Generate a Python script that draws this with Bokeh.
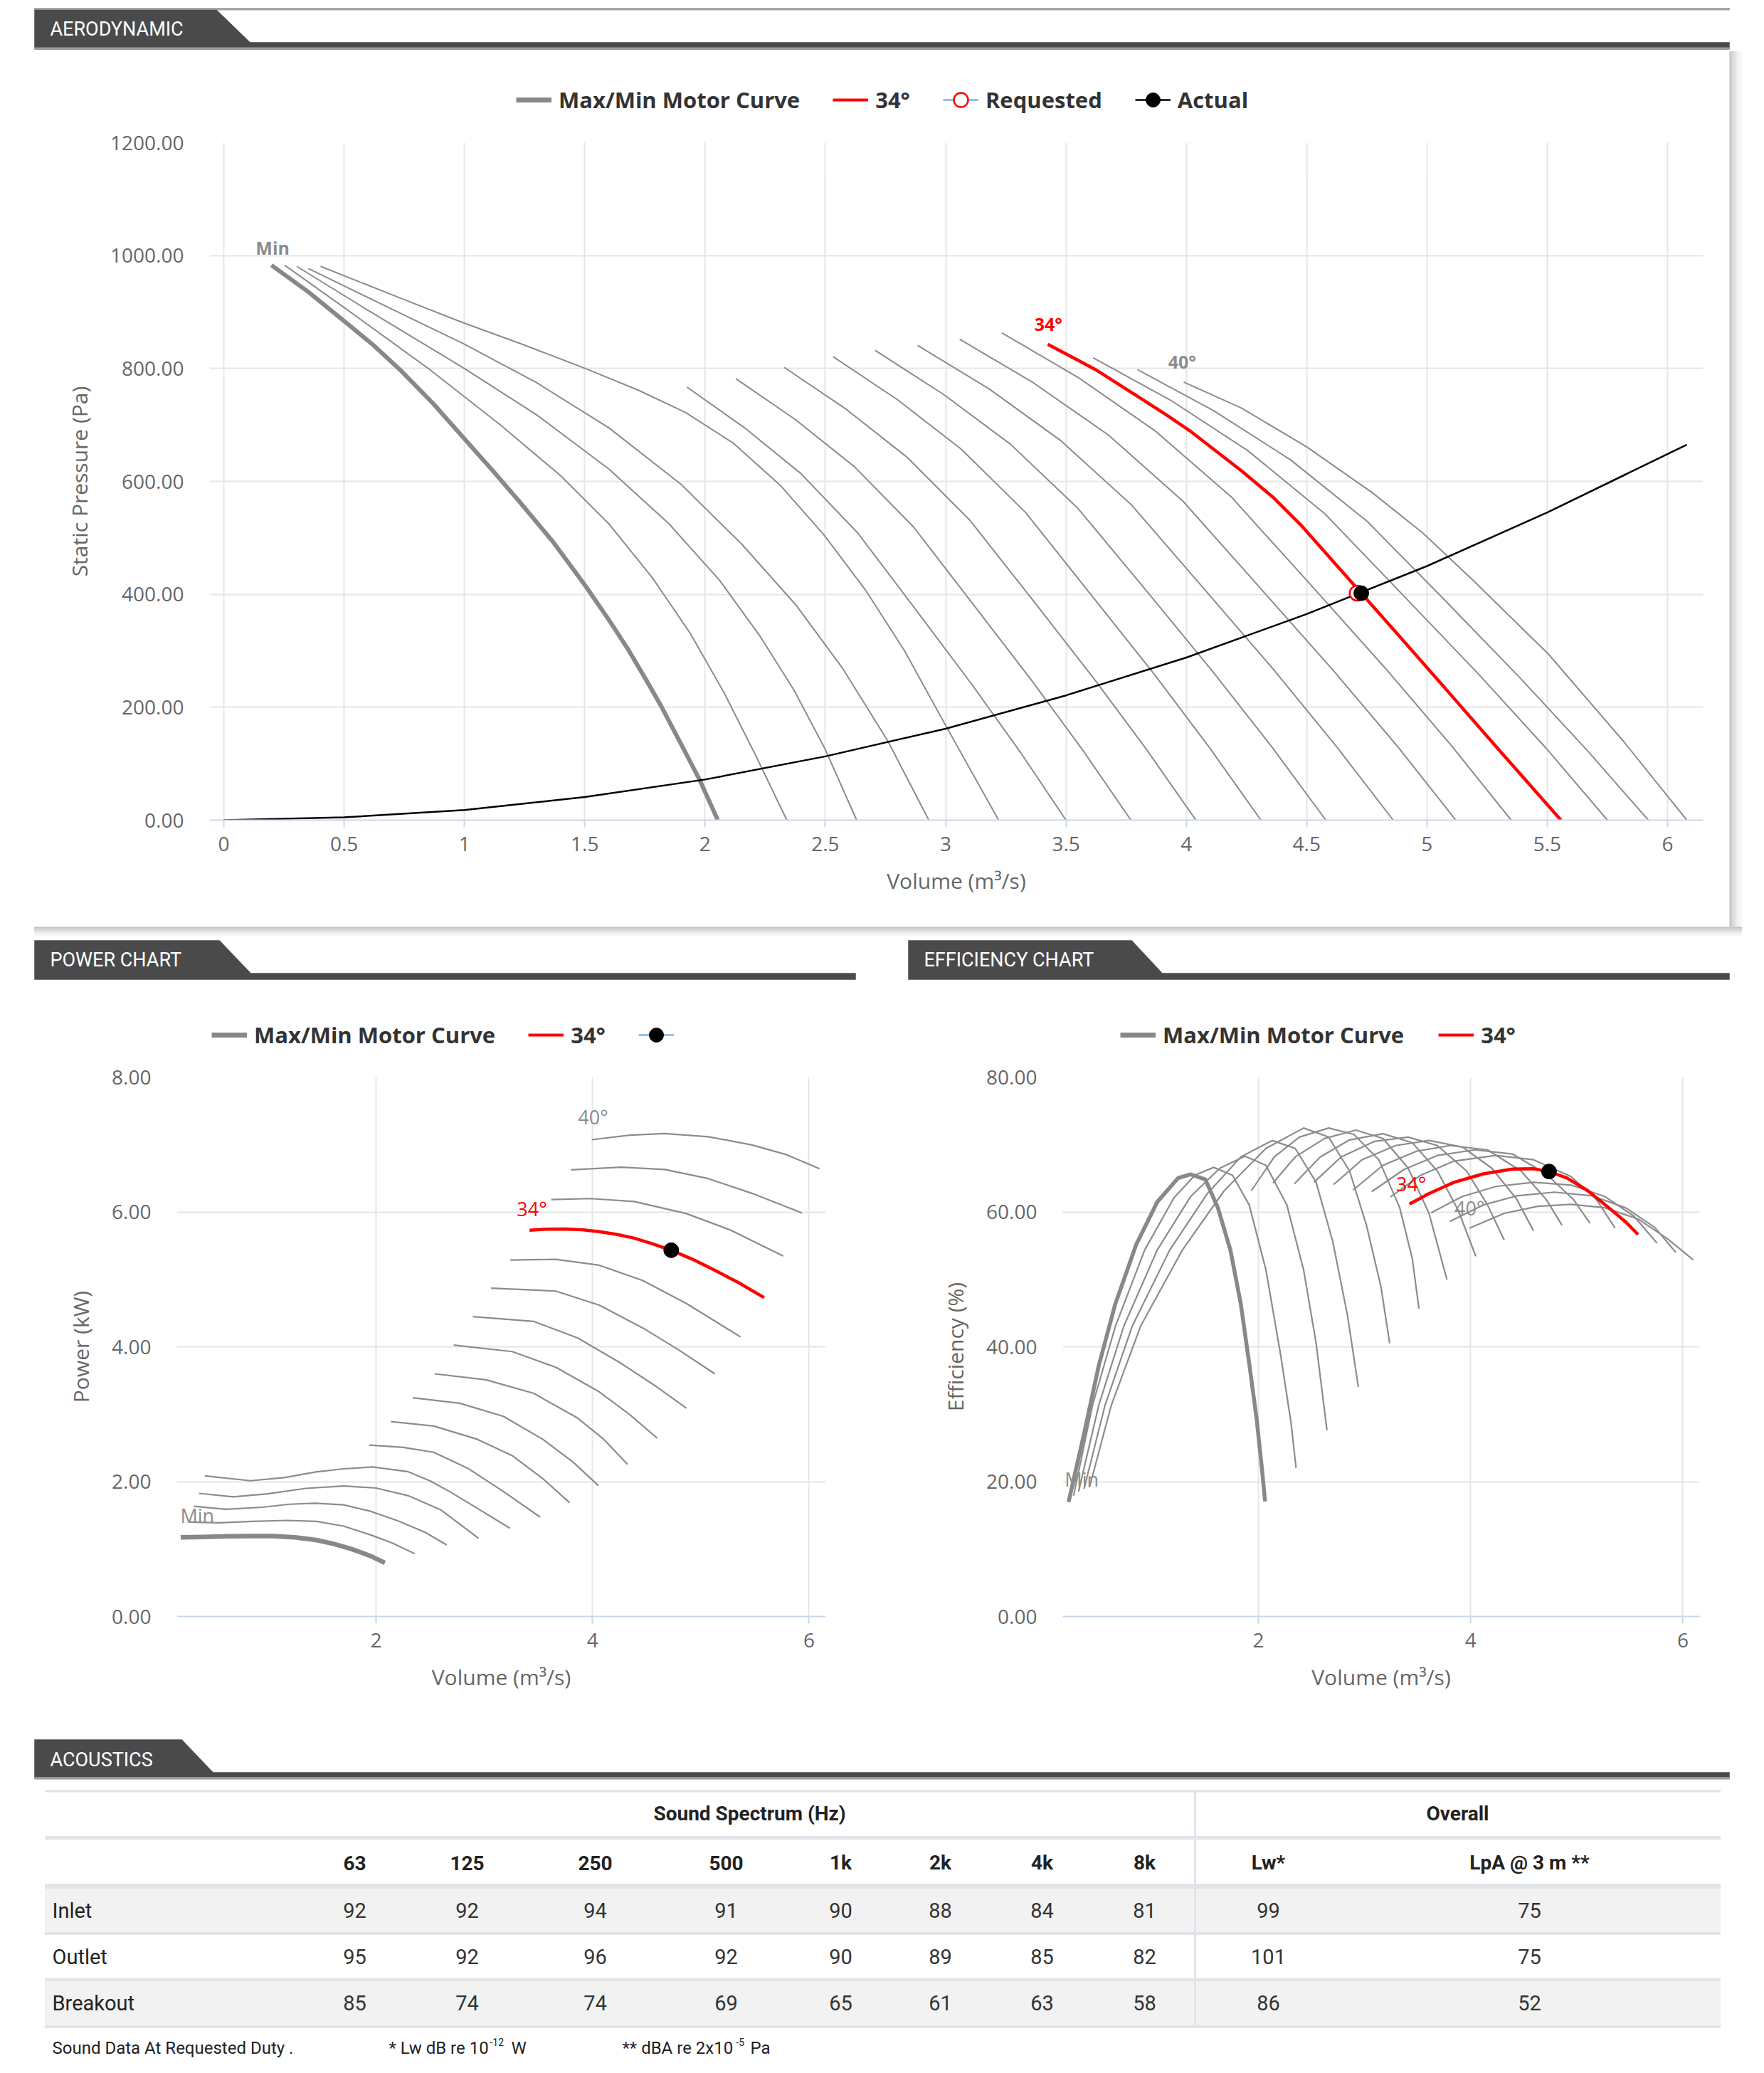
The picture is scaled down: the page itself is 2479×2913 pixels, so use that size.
from bokeh.plotting import figure
from bokeh.models import Range1d, FixedTicker, CustomJSTickFormatter, Legend, LegendItem
from bokeh.layouts import column, row
from bokeh.embed import file_html
from bokeh.resources import INLINE
from bokeh.core.properties import value

# ======================= DATA =======================
ANGLES = [10, 12, 14, 16, 18, 20, 22, 24, 26, 28, 30, 32, 34, 36, 38, 40]
SELECTED_ANGLE = 34

# ---- Aerodynamic: volume (m3/s) vs static pressure (Pa)
AERO_MIN_Q = [0.198, 0.35, 0.5, 0.62, 0.732, 0.87, 0.999, 1.12, 1.227, 1.37, 1.503, 1.60, 1.681, 1.76, 1.82, 1.90, 1.978, 2.053]
AERO_MIN_P = [983, 936, 884, 842, 798, 738, 676, 618, 565, 492, 415, 355, 302, 245, 200, 135, 71, 0]
AERO_10_Q = [0.253, 0.5, 0.85, 1.15, 1.4, 1.6, 1.78, 1.94, 2.08, 2.21, 2.34]
AERO_10_P = [983, 908, 800, 700, 610, 525, 430, 330, 225, 115, 0]
AERO_12_Q = [0.303, 0.6, 1.0, 1.3, 1.6, 1.85, 2.06, 2.23, 2.37, 2.5, 2.63]
AERO_12_P = [981, 903, 800, 718, 622, 525, 425, 325, 230, 125, 0]
AERO_14_Q = [0.352, 0.7, 1.0, 1.3, 1.6, 1.9, 2.15, 2.38, 2.57, 2.76, 2.93]
AERO_14_P = [977, 905, 843, 775, 695, 595, 490, 380, 270, 140, 0]
AERO_16_Q = [0.402, 0.732, 0.989, 1.246, 1.503, 1.721, 1.919, 2.117, 2.315, 2.493, 2.671, 2.829, 2.997, 3.22]
AERO_16_P = [981, 925, 882, 842, 800, 762, 722, 668, 592, 506, 405, 300, 170, 0]
AERO_18_Q = [1.925, 2.161, 2.398, 2.634, 2.870, 3.106, 3.311, 3.50]
AERO_18_P = [767, 696, 614, 509, 376, 242, 120, 0]
AERO_20_Q = [2.128, 2.374, 2.621, 2.867, 3.113, 3.360, 3.573, 3.77]
AERO_20_P = [782, 710, 626, 519, 383, 246, 122, 0]
AERO_22_Q = [2.329, 2.586, 2.842, 3.099, 3.356, 3.612, 3.835, 4.04]
AERO_22_P = [802, 728, 642, 532, 393, 253, 125, 0]
AERO_24_Q = [2.532, 2.799, 3.065, 3.332, 3.599, 3.866, 4.097, 4.31]
AERO_24_P = [821, 745, 657, 545, 402, 259, 128, 0]
AERO_26_Q = [2.707, 2.988, 3.269, 3.550, 3.831, 4.112, 4.355, 4.58]
AERO_26_P = [832, 755, 666, 552, 408, 262, 130, 0]
AERO_28_Q = [2.883, 3.180, 3.476, 3.773, 4.069, 4.366, 4.623, 4.86]
AERO_28_P = [841, 764, 673, 558, 412, 265, 131, 0]
AERO_30_Q = [3.058, 3.367, 3.677, 3.986, 4.295, 4.605, 4.873, 5.12]
AERO_30_P = [852, 774, 682, 565, 417, 268, 133, 0]
AERO_32_Q = [3.234, 3.551, 3.869, 4.186, 4.504, 4.821, 5.096, 5.35]
AERO_32_P = [863, 784, 690, 573, 423, 272, 135, 0]
AERO_34_Q = [3.424, 3.623, 3.811, 3.92, 4.020, 4.229, 4.36, 4.480, 4.727, 4.877, 5.087, 5.296, 5.557]
AERO_34_P = [843, 798, 747, 717, 688, 619, 572, 521, 402, 330, 228, 126, 0]
AERO_36_Q = [3.613, 3.934, 4.254, 4.575, 4.895, 5.216, 5.494, 5.75]
AERO_36_P = [819, 744, 655, 543, 401, 258, 128, 0]
AERO_38_Q = [3.797, 4.115, 4.434, 4.752, 5.071, 5.389, 5.665, 5.92]
AERO_38_P = [798, 725, 638, 529, 391, 251, 124, 0]
AERO_40_Q = [3.989, 4.229, 4.501, 4.773, 4.982, 5.191, 5.505, 5.818, 6.080]
AERO_40_P = [776, 730, 661, 580, 509, 425, 294, 139, 0]
SYSTEM_Q = [0, 0.5, 1.0, 1.5, 2.0, 2.5, 3.0, 3.5, 4.0, 4.5, 5.0, 5.5, 6.08]
SYSTEM_P = [0, 5, 18, 41, 72, 113, 162, 221, 288, 365, 450, 545, 665]
REQUESTED_Q = [4.71]
REQUESTED_P = [402]
ACTUAL_Q = [4.727]
ACTUAL_P = [402]
CURVE_LABELS = ["Min", "34°", "40°"]
AERO_LABEL_Q = [0.203, 3.427, 3.983]
AERO_LABEL_P = [1014, 879, 813]

# ---- Power: volume (m3/s) vs power (kW)
POW_MIN_Q = [0.195, 0.4, 0.639, 0.85, 1.041, 1.25, 1.444, 1.6, 1.766, 1.87, 1.968, 2.081]
POW_MIN_KW = [1.174, 1.18, 1.19, 1.192, 1.193, 1.175, 1.135, 1.08, 1.004, 0.945, 0.883, 0.796]
POW_10_Q = [0.276, 0.55, 0.85, 1.18, 1.45, 1.70, 1.95, 2.15, 2.358]
POW_10_KW = [1.40, 1.39, 1.41, 1.425, 1.41, 1.34, 1.21, 1.09, 0.93]
POW_12_Q = [0.316, 0.61, 0.95, 1.2, 1.44, 1.7, 1.95, 2.2, 2.45, 2.653]
POW_12_KW = [1.635, 1.59, 1.62, 1.665, 1.68, 1.655, 1.56, 1.42, 1.25, 1.06]
POW_14_Q = [0.365, 0.68, 1.0, 1.35, 1.7, 2.0, 2.3, 2.6, 2.947]
POW_14_KW = [1.826, 1.775, 1.82, 1.90, 1.935, 1.905, 1.79, 1.58, 1.16]
POW_16_Q = [0.417, 0.84, 1.15, 1.444, 1.7, 1.968, 2.29, 2.5, 2.693, 2.95, 3.237]
POW_16_KW = [2.086, 2.013, 2.06, 2.144, 2.19, 2.217, 2.15, 2.01, 1.84, 1.59, 1.309]
POW_18_Q = [1.936, 2.25, 2.532, 2.854, 3.176, 3.515]
POW_18_KW = [2.542, 2.508, 2.435, 2.192, 1.853, 1.475]
POW_20_Q = [2.137, 2.532, 2.934, 3.257, 3.539, 3.788]
POW_20_KW = [2.891, 2.824, 2.629, 2.386, 2.047, 1.688]
POW_22_Q = [2.338, 2.773, 3.176, 3.539, 3.821, 4.054]
POW_22_KW = [3.245, 3.162, 2.968, 2.629, 2.289, 1.941]
POW_24_Q = [2.540, 3.015, 3.458, 3.861, 4.103, 4.324]
POW_24_KW = [3.599, 3.511, 3.308, 2.944, 2.629, 2.256]
POW_26_Q = [2.717, 3.257, 3.660, 4.062, 4.344, 4.598]
POW_26_KW = [4.026, 3.929, 3.696, 3.332, 2.993, 2.644]
POW_28_Q = [2.894, 3.458, 3.861, 4.264, 4.586, 4.868]
POW_28_KW = [4.447, 4.375, 4.132, 3.754, 3.414, 3.089]
POW_30_Q = [3.063, 3.660, 4.062, 4.465, 4.788, 5.130]
POW_30_KW = [4.870, 4.826, 4.617, 4.278, 3.962, 3.599]
POW_32_Q = [3.241, 3.660, 4.062, 4.465, 4.868, 5.367]
POW_32_KW = [5.286, 5.296, 5.209, 4.981, 4.641, 4.147]
POW_34_Q = [3.418, 3.58, 3.740, 3.9, 4.062, 4.22, 4.385, 4.55, 4.727, 4.92, 5.110, 5.35, 5.585]
POW_34_KW = [5.728, 5.745, 5.747, 5.735, 5.708, 5.668, 5.611, 5.53, 5.432, 5.30, 5.151, 4.95, 4.729]
POW_36_Q = [3.619, 3.982, 4.385, 4.868, 5.271, 5.762]
POW_36_KW = [6.183, 6.198, 6.154, 5.975, 5.733, 5.345]
POW_38_Q = [3.801, 4.264, 4.667, 5.070, 5.472, 5.936]
POW_38_KW = [6.625, 6.664, 6.630, 6.494, 6.276, 5.985]
POW_40_Q = [3.994, 4.344, 4.667, 5.070, 5.472, 5.794, 6.097]
POW_40_KW = [7.071, 7.139, 7.163, 7.115, 6.994, 6.848, 6.640]
POW_ACTUAL_Q = [4.727]
POW_ACTUAL_KW = [5.432]
POW_LABEL_Q = [0.348, 3.44, 4.005]
POW_LABEL_KW = [1.50, 6.05, 7.41]

# ---- Efficiency: volume (m3/s) vs efficiency (%)
EFF_MIN_Q = [0.211, 0.357, 0.495, 0.652, 0.849, 1.046, 1.243, 1.362, 1.500, 1.618, 1.736, 1.834, 1.913, 1.984, 2.032, 2.063]
EFF_MIN_E = [16.98, 27.12, 37.17, 46.38, 55.18, 61.46, 65.02, 65.57, 64.81, 60.63, 54.34, 46.38, 37.59, 29.21, 22.09, 17.06]
EFF_10_Q = [0.258, 0.436, 0.652, 0.928, 1.204, 1.401, 1.578, 1.756, 1.913, 2.071, 2.209, 2.307, 2.355]
EFF_10_E = [17.90, 31.30, 43.03, 54.34, 62.09, 65.44, 66.61, 65.44, 61.04, 51.41, 38.84, 28.79, 22.01]
EFF_12_Q = [0.305, 0.495, 0.731, 1.046, 1.362, 1.637, 1.874, 2.071, 2.268, 2.426, 2.544, 2.646]
EFF_12_E = [18.53, 31.30, 43.03, 54.34, 62.30, 66.49, 68.25, 66.91, 61.04, 51.41, 40.52, 27.62]
EFF_14_Q = [0.357, 0.554, 0.810, 1.164, 1.519, 1.834, 2.130, 2.347, 2.544, 2.701, 2.839, 2.942]
EFF_14_E = [18.95, 31.30, 43.03, 54.34, 62.72, 68.16, 70.59, 69.42, 64.39, 55.60, 44.71, 34.03]
EFF_16_Q = [0.408, 0.613, 0.889, 1.283, 1.677, 2.071, 2.426, 2.662, 2.859, 3.017, 3.155, 3.237]
EFF_16_E = [19.16, 31.30, 43.03, 54.34, 63.14, 69.42, 72.44, 71.10, 66.07, 58.11, 48.90, 40.52]
EFF_18_Q = [1.933, 2.150, 2.386, 2.662, 2.899, 3.135, 3.332, 3.450, 3.513]
EFF_18_E = [63.14, 68.16, 71.10, 72.44, 71.51, 67.74, 60.62, 53.09, 45.67]
EFF_20_Q = [2.138, 2.347, 2.623, 2.918, 3.174, 3.411, 3.608, 3.777]
EFF_20_E = [64.31, 68.16, 70.89, 72.14, 70.89, 66.49, 59.79, 49.94]
EFF_22_Q = [2.339, 2.583, 2.859, 3.174, 3.450, 3.687, 3.884, 4.049]
EFF_22_E = [64.18, 68.16, 70.68, 71.60, 70.26, 66.07, 60.21, 53.42]
EFF_24_Q = [2.524, 2.780, 3.096, 3.411, 3.687, 3.962, 4.159, 4.317]
EFF_24_E = [64.39, 68.16, 70.47, 71.10, 69.84, 66.07, 61.04, 55.81]
EFF_26_Q = [2.709, 2.977, 3.293, 3.608, 3.923, 4.199, 4.435, 4.593]
EFF_26_E = [64.06, 67.74, 69.84, 70.59, 69.63, 66.49, 61.88, 57.19]
EFF_28_Q = [2.891, 3.174, 3.490, 3.805, 4.159, 4.475, 4.711, 4.861]
EFF_28_E = [63.22, 66.91, 69.00, 69.84, 69.21, 66.07, 61.88, 58.03]
EFF_30_Q = [3.068, 3.371, 3.687, 4.041, 4.396, 4.711, 4.967, 5.125]
EFF_30_E = [63.01, 66.28, 68.37, 69.21, 68.58, 65.65, 61.88, 58.32]
EFF_32_Q = [3.245, 3.529, 3.844, 4.238, 4.593, 4.948, 5.184, 5.361]
EFF_32_E = [62.22, 65.44, 67.54, 68.37, 67.74, 65.23, 61.88, 57.61]
EFF_34_Q = [3.423, 3.608, 3.844, 4.120, 4.396, 4.593, 4.739, 4.908, 5.105, 5.302, 5.460, 5.578]
EFF_34_E = [61.17, 62.72, 64.39, 65.65, 66.36, 66.40, 65.99, 65.02, 63.14, 60.62, 58.53, 56.65]
EFF_36_Q = [3.628, 3.923, 4.238, 4.593, 4.948, 5.263, 5.539, 5.756]
EFF_36_E = [59.87, 62.30, 63.77, 64.39, 63.98, 62.30, 59.37, 55.39]
EFF_38_Q = [3.805, 4.120, 4.435, 4.790, 5.145, 5.460, 5.736, 5.933]
EFF_38_E = [58.61, 61.04, 62.38, 62.93, 62.38, 60.62, 57.69, 54.01]
EFF_40_Q = [3.990, 4.317, 4.633, 4.948, 5.263, 5.578, 5.854, 6.098]
EFF_40_E = [57.61, 59.79, 60.83, 61.13, 60.62, 58.95, 56.02, 52.88]
EFF_ACTUAL_Q = [4.739]
EFF_ACTUAL_E = [65.99]
EFF_LABEL_Q = [0.335, 3.44, 3.99]
EFF_LABEL_E = [20.4, 64.2, 60.6]

# ---- Axis ticks / labels
AERO_X_TICKS = [0, 0.5, 1, 1.5, 2, 2.5, 3, 3.5, 4, 4.5, 5, 5.5, 6]
AERO_X_LABELS = ["0", "0.5", "1", "1.5", "2", "2.5", "3", "3.5", "4", "4.5", "5", "5.5", "6"]
AERO_Y_TICKS = [0, 200, 400, 600, 800, 1000, 1200]
AERO_Y_LABELS = ["0.00", "200.00", "400.00", "600.00", "800.00", "1000.00", "1200.00"]
POW_X_TICKS = [2, 4, 6]
POW_X_LABELS = ["2", "4", "6"]
POW_Y_TICKS = [0, 2, 4, 6, 8]
POW_Y_LABELS = ["0.00", "2.00", "4.00", "6.00", "8.00"]
EFF_Y_TICKS = [0, 20, 40, 60, 80]
EFF_Y_LABELS = ["0.00", "20.00", "40.00", "60.00", "80.00"]

# ---- Acoustics table
FREQ_BANDS = ["63", "125", "250", "500", "1k", "2k", "4k", "8k"]
OVERALL_COLS = ["Lw*", "LpA @ 3 m **"]
ROW_NAMES = ["Inlet", "Outlet", "Breakout"]
INLET_DB = [92, 92, 94, 91, 90, 88, 84, 81]
OUTLET_DB = [95, 92, 96, 92, 90, 89, 85, 82]
BREAKOUT_DB = [85, 74, 74, 69, 65, 61, 63, 58]
INLET_OVERALL = [99, 75]
OUTLET_OVERALL = [101, 75]
BREAKOUT_OVERALL = [86, 52]

# ======================= STYLE =======================
GRAY = "#8c8c8c"
THICK = "#888888"
RED = "#ff0000"
TXT = "#666666"
DARK = "#4a4a4a"
FONT = "Open Sans"
TFONT = "Roboto"
BLUE = "#7cb5ec"


def fmt(tv, tl):
    return CustomJSTickFormatter(args=dict(tv=list(tv), tl=list(tl)),
                                 code="const i = tv.indexOf(tick); return i >= 0 ? tl[i] : '';")


def chart(w, h, xr, yr, bl, br, bt, bb, xt, xl, yt, yl, xtitle, ytitle):
    p = figure(width=w, height=h, x_range=Range1d(*xr), y_range=Range1d(*yr),
               output_backend="svg", toolbar_location=None,
               min_border_left=bl, min_border_right=br, min_border_top=bt, min_border_bottom=bb)
    p.outline_line_color = None
    p.xaxis.ticker = FixedTicker(ticks=list(xt))
    p.yaxis.ticker = FixedTicker(ticks=list(yt))
    p.xaxis.formatter = fmt(xt, xl)
    p.yaxis.formatter = fmt(yt, yl)
    p.xaxis.axis_label = xtitle
    p.yaxis.axis_label = ytitle
    p.axis.major_label_text_font = FONT
    p.axis.major_label_text_font_size = "28px"
    p.axis.major_label_text_color = TXT
    p.axis.axis_label_text_font = FONT
    p.axis.axis_label_text_font_size = "30px"
    p.axis.axis_label_text_font_style = "normal"
    p.axis.axis_label_text_color = TXT
    p.axis.minor_tick_line_color = None
    p.xaxis.axis_line_color = "#ccd6eb"
    p.xaxis.axis_line_width = 2
    p.xaxis.major_tick_line_color = "#ccd6eb"
    p.xaxis.major_tick_line_width = 2
    p.xaxis.major_tick_out = 10
    p.xaxis.major_tick_in = 0
    p.xaxis.major_label_standoff = 13
    p.xaxis.axis_label_standoff = 18
    p.yaxis.axis_line_color = None
    p.yaxis.major_tick_line_color = None
    p.yaxis.major_tick_out = 0
    p.yaxis.major_tick_in = 0
    p.yaxis.major_label_standoff = 36
    p.yaxis.axis_label_standoff = 20
    p.grid.grid_line_color = "#e6e6e6"
    p.grid.grid_line_width = 2
    return p


def canvas(w, h, x0, y0):
    p = figure(width=w, height=h, x_range=Range1d(x0, x0 + w), y_range=Range1d(y0 + h, y0),
               output_backend="svg", toolbar_location=None, min_border=0,
               x_axis_type=None, y_axis_type=None)
    p.outline_line_color = None
    return p


def legend_fig(w, h, spec, loc, spacing):
    # legend-only figure; its sample renderers sit outside the visible range
    p = figure(width=w, height=h, x_range=Range1d(0, 1), y_range=Range1d(0, 1),
               output_backend="svg", toolbar_location=None, min_border=0,
               x_axis_type=None, y_axis_type=None)
    p.outline_line_color = None
    items = []
    for label, parts in spec:
        rends = []
        for kind, kw in parts:
            if kind == "line":
                rends.append(p.line([5, 6], [5, 6], **kw))
            else:
                rends.append(p.scatter([5], [5], marker="circle", **kw))
        items.append(LegendItem(label=label, renderers=rends))
    lg = Legend(items=items, location=loc, orientation="horizontal",
                label_text_font=FONT, label_text_font_size="31px", label_text_font_style="bold",
                label_text_color="#333333", glyph_width=50, glyph_height=56,
                label_standoff=10, spacing=spacing, padding=0, margin=0,
                border_line_alpha=0, background_fill_alpha=0)
    p.add_layout(lg)
    return p


def tab(p, x0, x1, x2, x3, ytop, ybar, ybot, label, ty):
    p.patch([x0, x1, x2, x3, x3, x0], [ytop, ytop, ybar, ybar, ybot, ybot],
            fill_color=DARK, line_color=DARK, line_width=0.5)
    p.text(x=[x0 + 22], y=[ty], text=[label], text_font=value(TFONT), text_font_size="27px",
           text_color="#ffffff", text_baseline="middle", text_align="left")


MINLEG = ("line", dict(line_color=THICK, line_width=7))
REDLEG = ("line", dict(line_color=RED, line_width=4))

# ======================= AERO HEADER =======================
f1 = canvas(2479, 70, 0, 0)
f1.quad(left=[48], right=[2430], top=[11], bottom=[13.5], color="#a6a6a6")
tab(f1, 48, 304, 351, 2430, 13.5, 59, 66.5, "AERODYNAMIC", 40.5)
f1.quad(left=[48], right=[2430], top=[66.5], bottom=[69], color="#9a9a9a")

# ======================= AERO CHART =======================
# (the legend figure's frame gets aligned with the chart frame below, which starts at x=294)
leg_a = legend_fig(2430, 110, [
    ("Max/Min Motor Curve", [MINLEG]),
    ("34°", [REDLEG]),
    ("Requested", [("line", dict(line_color=BLUE, line_width=2.5)),
                   ("scatter", dict(size=20, fill_color="#ffffff", line_color=RED, line_width=2.5))]),
    ("Actual", [("line", dict(line_color="#000000", line_width=2.5)),
                ("scatter", dict(size=20, fill_color="#000000", line_color="#000000"))]),
], (431, 12), 46)

pa = chart(2430, 1122, (-0.0591, 6.1478), (0, 1200), 294, 37, 20, 150,
           AERO_X_TICKS, AERO_X_LABELS, AERO_Y_TICKS, AERO_Y_LABELS,
           "Volume (m³/s)", "Static Pressure (Pa)")
aero_thin = [(AERO_10_Q, AERO_10_P), (AERO_12_Q, AERO_12_P), (AERO_14_Q, AERO_14_P),
             (AERO_16_Q, AERO_16_P), (AERO_18_Q, AERO_18_P), (AERO_20_Q, AERO_20_P),
             (AERO_22_Q, AERO_22_P), (AERO_24_Q, AERO_24_P), (AERO_26_Q, AERO_26_P),
             (AERO_28_Q, AERO_28_P), (AERO_30_Q, AERO_30_P), (AERO_32_Q, AERO_32_P),
             (AERO_36_Q, AERO_36_P), (AERO_38_Q, AERO_38_P), (AERO_40_Q, AERO_40_P)]
for xs, ys in aero_thin:
    pa.line(xs, ys, line_color=GRAY, line_width=2, line_join="round")
pa.line(AERO_MIN_Q, AERO_MIN_P, line_color=THICK, line_width=6, line_join="round")
pa.line(AERO_34_Q, AERO_34_P, line_color=RED, line_width=4.5, line_join="round")
pa.line(SYSTEM_Q, SYSTEM_P, line_color="#000000", line_width=2.5)
pa.scatter(REQUESTED_Q, REQUESTED_P, size=21, marker="circle", fill_color="#ffffff",
           line_color=RED, line_width=2.5)
pa.scatter(ACTUAL_Q, ACTUAL_P, size=21, marker="circle", fill_color="#000000",
           line_color="#000000")
pa.text(x=AERO_LABEL_Q, y=AERO_LABEL_P, text=CURVE_LABELS,
        text_color=[GRAY, RED, GRAY], text_font=value(FONT), text_font_size="25px",
        text_font_style="bold", text_align="center", text_baseline="middle")

shadow = canvas(49, 1232, 2430, 70)
shade_cols = ["#c4c4c4", "#cfcfcf", "#dadada", "#e4e4e4", "#eeeeee", "#f6f6f6"]
shade_x = [2430, 2432, 2434, 2437, 2440, 2443, 2447]
shadow.quad(left=shade_x[:-1], right=shade_x[1:], top=[72] * 6, bottom=[1302] * 6,
            color=shade_cols)

# ======================= POWER / EFF HEADERS =======================
f3 = canvas(2479, 78, 0, 1302)
shade_y = [1302, 1304, 1306, 1308, 1310, 1312, 1314]
f3.quad(left=[48] * 6, right=[2447] * 6, top=shade_y[:-1], bottom=shade_y[1:], color=shade_cols)
tab(f3, 48, 308, 352, 1202, 1321, 1367, 1376, "POWER CHART", 1348)
tab(f3, 1276, 1590, 1633, 2430, 1321, 1367, 1376, "EFFICIENCY CHART", 1348)

# ======================= POWER CHART =======================
leg_p = legend_fig(1240, 110, [
    ("Max/Min Motor Curve", [MINLEG]),
    ("34°", [REDLEG]),
    (" ", [("line", dict(line_color=BLUE, line_width=2.5)),
           ("scatter", dict(size=20, fill_color="#000000", line_color="#000000"))]),
], (297, 8), 46)

pp = chart(1240, 910, (0.159, 6.155), (0, 8), 248, 80, 23, 129,
           POW_X_TICKS, POW_X_LABELS, POW_Y_TICKS, POW_Y_LABELS,
           "Volume (m³/s)", "Power (kW)")
pow_thin = [(POW_10_Q, POW_10_KW), (POW_12_Q, POW_12_KW), (POW_14_Q, POW_14_KW),
            (POW_16_Q, POW_16_KW), (POW_18_Q, POW_18_KW), (POW_20_Q, POW_20_KW),
            (POW_22_Q, POW_22_KW), (POW_24_Q, POW_24_KW), (POW_26_Q, POW_26_KW),
            (POW_28_Q, POW_28_KW), (POW_30_Q, POW_30_KW), (POW_32_Q, POW_32_KW),
            (POW_36_Q, POW_36_KW), (POW_38_Q, POW_38_KW), (POW_40_Q, POW_40_KW)]
for xs, ys in pow_thin:
    pp.line(xs, ys, line_color=GRAY, line_width=2.2, line_join="round")
pp.line(POW_MIN_Q, POW_MIN_KW, line_color=THICK, line_width=6.5, line_join="round")
pp.line(POW_34_Q, POW_34_KW, line_color=RED, line_width=4.5, line_join="round")
pp.scatter(POW_ACTUAL_Q, POW_ACTUAL_KW, size=21, marker="circle",
           fill_color="#000000", line_color="#000000")
pp.text(x=POW_LABEL_Q, y=POW_LABEL_KW, text=CURVE_LABELS,
        text_color=[GRAY, RED, GRAY], text_font=value(FONT), text_font_size="27px",
        text_align="center", text_baseline="middle")

# ======================= EFFICIENCY CHART =======================
leg_e = legend_fig(1239, 110, [
    ("Max/Min Motor Curve", [MINLEG]),
    ("34°", [REDLEG]),
], (334, 8), 48)

pe = chart(1239, 910, (0.156, 6.158), (0, 80), 253, 91, 23, 129,
           POW_X_TICKS, POW_X_LABELS, EFF_Y_TICKS, EFF_Y_LABELS,
           "Volume (m³/s)", "Efficiency (%)")
eff_thin = [(EFF_10_Q, EFF_10_E), (EFF_12_Q, EFF_12_E), (EFF_14_Q, EFF_14_E),
            (EFF_16_Q, EFF_16_E), (EFF_18_Q, EFF_18_E), (EFF_20_Q, EFF_20_E),
            (EFF_22_Q, EFF_22_E), (EFF_24_Q, EFF_24_E), (EFF_26_Q, EFF_26_E),
            (EFF_28_Q, EFF_28_E), (EFF_30_Q, EFF_30_E), (EFF_32_Q, EFF_32_E),
            (EFF_36_Q, EFF_36_E), (EFF_38_Q, EFF_38_E), (EFF_40_Q, EFF_40_E)]
for xs, ys in eff_thin:
    pe.line(xs, ys, line_color=GRAY, line_width=2.2, line_join="round")
pe.line(EFF_MIN_Q, EFF_MIN_E, line_color=THICK, line_width=5.5, line_join="round")
pe.line(EFF_34_Q, EFF_34_E, line_color=RED, line_width=4.5, line_join="round")
pe.scatter(EFF_ACTUAL_Q, EFF_ACTUAL_E, size=21, marker="circle",
           fill_color="#000000", line_color="#000000")
pe.text(x=EFF_LABEL_Q, y=EFF_LABEL_E, text=CURVE_LABELS,
        text_color=[GRAY, RED, GRAY], text_font=value(FONT), text_font_size="27px",
        text_align="center", text_baseline="middle")

# ======================= ACOUSTICS =======================
f5 = canvas(2479, 505, 0, 2400)
tab(f5, 48, 255, 299, 2430, 2444, 2490, 2497, "ACOUSTICS", 2472)
f5.quad(left=[48], right=[2430], top=[2497], bottom=[2499.5], color="#9a9a9a")

LINE = "#e1e4e8"
f5.quad(left=[63, 63], right=[2417, 2417], top=[2653, 2783], bottom=[2715, 2846], color="#f2f2f2")
line_tops = [2515, 2580, 2647, 2715, 2780, 2846]
line_bots = [2517.5, 2584, 2653, 2718, 2783, 2849]
f5.quad(left=[63] * 6, right=[2417] * 6, top=line_tops, bottom=line_bots, color=LINE)
f5.quad(left=[1678], right=[1680], top=[2515], bottom=[2849], color=LINE)

col_x = [498, 656, 836, 1020, 1181, 1321, 1464, 1608, 1782, 2149]
f5.text(x=[1053, 2048], y=[2548, 2548], text=["Sound Spectrum (Hz)", "Overall"],
        text_font=value(TFONT), text_font_size="28px", text_font_style="bold",
        text_color="#222222", text_align="center", text_baseline="middle")
f5.text(x=col_x, y=[2617] * len(col_x), text=FREQ_BANDS + OVERALL_COLS,
        text_font=value(TFONT), text_font_size="28px", text_font_style="bold",
        text_color="#222222", text_align="center", text_baseline="middle")
row_y = [2684, 2749, 2814]
f5.text(x=[73] * 3, y=row_y, text=ROW_NAMES, text_font=value(TFONT), text_font_size="29px",
        text_color="#222222", text_align="left", text_baseline="middle")
for yy, band, overall in zip(row_y, [INLET_DB, OUTLET_DB, BREAKOUT_DB],
                             [INLET_OVERALL, OUTLET_OVERALL, BREAKOUT_OVERALL]):
    vals = [str(v) for v in band + overall]
    f5.text(x=col_x, y=[yy] * len(vals), text=vals, text_font=value(TFONT),
            text_font_size="29px", text_color="#333333", text_align="center",
            text_baseline="middle")
f5.text(x=[73, 546, 718, 874, 1054], y=[2877] * 5,
        text=["Sound Data At Requested Duty .", "* Lw dB re 10", "W", "** dBA re 2x10", "Pa"],
        text_font=value(TFONT), text_font_size="24px", text_color="#222222",
        text_align="left", text_baseline="middle")
f5.text(x=[688, 1034], y=[2869, 2869], text=["-12", "-5"], text_font=value(TFONT),
        text_font_size="14px", text_color="#222222", text_align="left", text_baseline="middle")

layout = column(
    f1,
    row(column(leg_a, pa, spacing=0), shadow, spacing=0),
    f3,
    column(row(leg_p, leg_e, spacing=0), row(pp, pe, spacing=0), spacing=0),
    f5,
    spacing=0,
)

with open("out.html", "w", encoding="utf-8") as fh:
    fh.write(file_html(layout, INLINE))
